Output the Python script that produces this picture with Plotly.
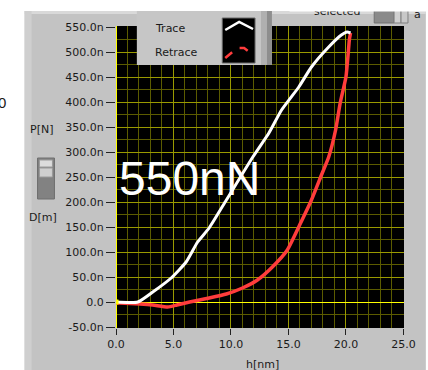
import plotly.graph_objects as go

# ---- data ----
trace_h = [0.0, 1.9, 3.2, 4.8, 6.1, 7.1, 8.1, 9.6, 11.9, 13.3, 14.4, 15.9, 17.0, 18.5, 19.6, 20.1, 20.4]
trace_p = [0, 0, 20, 48, 80, 120, 148, 204, 290, 338, 384, 430, 470, 510, 534, 540, 538]

retrace_h = [20.4, 20.3, 20.2, 20.0, 19.5, 19.1, 18.5, 17.8, 17.0, 16.1, 14.9, 13.6, 12.3, 11.0, 9.6, 8.1,
             6.4, 5.3, 4.5, 3.2, 2.1, 0.3, 0.0]
retrace_p = [538, 525, 498, 450, 398, 344, 290, 250, 204, 160, 104, 70, 44, 28, 16, 8,
             0, -6, -10, -6, -4, -2, -2]

y_tickvals = [550, 500, 450, 400, 350, 300, 250, 200, 150, 100, 50, 0, -50]
y_ticktext = ["550.0n", "500.0n", "450.0n", "400.0n", "350.0n", "300.0n", "250.0n",
              "200.0n", "150.0n", "100.0n", "50.0n", "0.0", "-50.0n"]
x_tickvals = [0, 5, 10, 15, 20, 25]
x_ticktext = ["0.0", "5.0", "10.0", "15.0", "20.0", "25.0"]

# ---- layout geometry (pixels) ----
W, H = 428, 370
L, R, T, B = 116, 406, 26, 328
PW, PH = R - L, B - T


def fx(px):
    return (px - L) / PW


def fy(py):
    return (B - py) / PH


FONT = "DejaVu Sans"

fig = go.Figure()
fig.add_trace(go.Scatter(x=retrace_h, y=retrace_p, mode="lines",
                         line=dict(color="#ff3c3c", width=3.5, shape="spline", smoothing=0.5),
                         hoverinfo="skip"))
fig.add_trace(go.Scatter(x=trace_h, y=trace_p, mode="lines",
                         line=dict(color="#ffffff", width=3, shape="spline", smoothing=0.5),
                         hoverinfo="skip"))
fig.add_trace(go.Scatter(x=[0], y=[0], mode="markers",
                         marker=dict(color="#ffff00", size=5, symbol="square"), hoverinfo="skip"))

shapes = []


def rect(x0, y0, x1, y1, fill, line=None, lw=0, layer="below"):
    shapes.append(dict(type="rect", xref="paper", yref="paper",
                       x0=fx(x0), x1=fx(x1), y0=fy(y1), y1=fy(y0),
                       fillcolor=fill, layer=layer,
                       line=dict(color=line or fill, width=lw)))


def seg(pts, color, width, dash="solid", layer="above"):
    path = "M " + " L ".join(f"{fx(a)},{fy(b)}" for a, b in pts)
    shapes.append(dict(type="path", xref="paper", yref="paper", path=path,
                       line=dict(color=color, width=width, dash=dash), layer=layer))


# grey instrument panel
rect(24, 11, 428, 370, "#c3c3c3")
rect(24, 11, 428, 14, "#d9d9d9")
rect(24, 11, 31, 370, "#cfcfcf")
# black plot area
rect(L, T, R, B, "#000000")

# legend box
rect(137, 11, 273, 65, "#c6c6c6", layer="above")
rect(262, 11, 268, 65, "#b0b0b0", layer="above")
rect(268, 11, 273, 65, "#8e8e8e", layer="above")
rect(223, 18, 256, 63, "#000000", line="#6a6a6a", lw=1, layer="above")
seg([(226, 30), (240, 22), (254, 29)], "#ffffff", 2.5)
seg([(226, 58), (238, 48), (245, 48), (253, 54)], "#ff3c3c", 2.5, dash="dash")

# left vertical slider
rect(37, 158, 54, 199, "#828282", line="#6e6e6e", lw=1)
rect(39, 160, 52, 167, "#dcdcdc", line="#9a9a9a", lw=1)
rect(39, 168, 52, 177, "#cfcfcf", line="#9a9a9a", lw=1)

# top-right slider
rect(376, 10, 396, 23, "#8a8a8a", line="#707070", lw=1)
rect(396, 10, 403, 23, "#d0d0d0", line="#808080", lw=1)
rect(403, 10, 410, 23, "#c8c8c8", line="#808080", lw=1)

annotations = []


def text(s, px, py, size=11, color="#1a1a1a", xanchor="center", yanchor="middle", family=FONT, **kw):
    annotations.append(dict(text=s, x=fx(px), y=fy(py), xref="paper", yref="paper",
                            xanchor=xanchor, yanchor=yanchor, showarrow=False,
                            font=dict(size=size, color=color, family=family), **kw))


text("0", 7, 103, size=15, xanchor="right", family="Liberation Sans")
text("P[N]", 41, 129)
text("D[m]", 42, 217)
text("h[nm]", 264, 364)
text("Trace", 153, 28, xanchor="left")
text("Retrace", 153, 52, xanchor="left")
text("selected", 313, 12, xanchor="left")
text("a", 414, 14, xanchor="left")
text("550nN", 190, 178, size=48, color="#ffffff", family="Liberation Sans")
# white strip hiding the top of the cropped text
annotations.append(dict(text=" ", x=fx(290), y=fy(0), xref="paper", yref="paper",
                        xanchor="left", yanchor="top", showarrow=False,
                        width=138, height=10, bgcolor="#ffffff", borderpad=0,
                        font=dict(size=6)))

fig.update_layout(
    width=W, height=H,
    margin=dict(l=L, r=W - R, t=T, b=H - B),
    paper_bgcolor="#ffffff", plot_bgcolor="#000000",
    showlegend=False, shapes=shapes, annotations=annotations,
    font=dict(family=FONT, size=11, color="#1a1a1a"),
)
fig.update_xaxes(range=[0, 25.05], tickvals=x_tickvals, ticktext=x_ticktext,
                 ticks="outside", ticklen=6, tickcolor="#222", tickwidth=1,
                 showgrid=True, gridcolor="#9a9a00", gridwidth=1,
                 minor=dict(dtick=1, showgrid=True, gridcolor="#5c5c00", gridwidth=1),
                 zeroline=True, zerolinecolor="#ffff00", zerolinewidth=1,
                 showline=False, tickfont=dict(size=11, family=FONT, color="#1a1a1a"))
fig.update_yaxes(range=[-52, 552], tickvals=y_tickvals, ticktext=y_ticktext,
                 ticks="outside", ticklen=9, tickcolor="#222", tickwidth=1,
                 showgrid=True, gridcolor="#9a9a00", gridwidth=1,
                 minor=dict(dtick=25, showgrid=True, gridcolor="#5c5c00", gridwidth=1),
                 zeroline=True, zerolinecolor="#ffff00", zerolinewidth=1,
                 showline=False, tickfont=dict(size=11, family=FONT, color="#1a1a1a"))

fig.write_html("out.html")
